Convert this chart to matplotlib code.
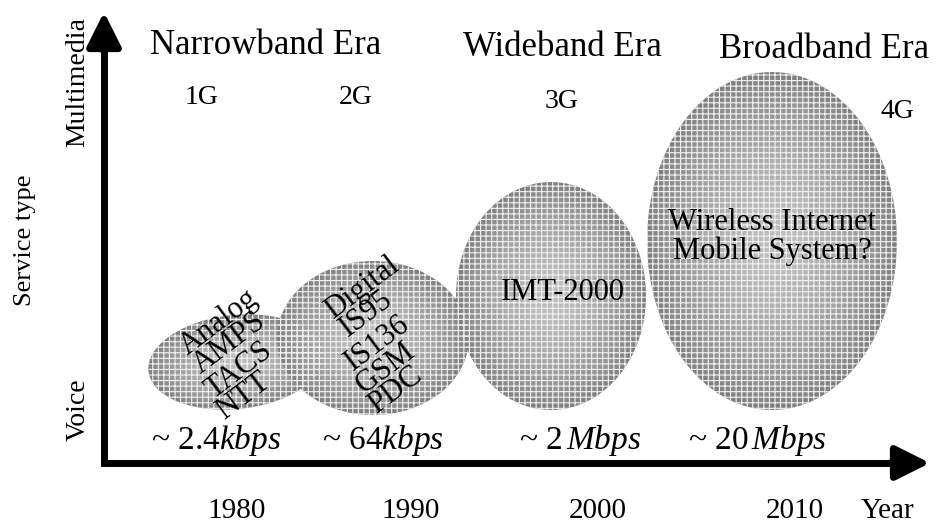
import matplotlib

matplotlib.use("Agg")
import matplotlib.pyplot as plt
from matplotlib.patches import Ellipse

plt.rcParams["font.family"] = ["Liberation Serif", "DejaVu Serif"]
plt.rcParams["mathtext.fontset"] = "custom"
plt.rcParams["mathtext.rm"] = "Liberation Serif"
plt.rcParams["mathtext.it"] = "Liberation Serif:italic"
plt.rcParams["hatch.linewidth"] = 0.8

# chart content
eras = ["Narrowband Era", "Wideband Era", "Broadband Era"]
generations = ["1G", "2G", "3G", "4G"]
years = ["1980", "1990", "2000", "2010"]
rate_values = ["2.4", "64", "2", "20"]
rate_units = ["kbps", "kbps", "Mbps", "Mbps"]
analog_systems = ["Analog", "AMPS", "TACS", "NTT"]
digital_systems = ["Digital", "IS95", "IS136", "GSM", "PDC"]
imt_label = "IMT-2000"
future_label = "Wireless Internet\nMobile System?"
service_levels = ["Voice", "Multimedia"]

# layout (canvas units = pixels of the 939x525 frame)
W, H = 939, 525
origin = (104, 463)
x_tip, y_tip = 930, 12
era_pos = [(266, 45), (562, 47), (824, 49)]
gen_pos = [(202, 98), (356, 98), (561, 102), (897, 112)]
year_x = [237, 411, 598, 795]
year_y = 511
rate_x = [216, 383, 580, 757]
rate_y = 441
analog_pos = [(219, 322), (229, 343), (239, 370), (243, 396)]
digital_pos = [(362, 288), (366, 314), (377, 343), (386, 368), (395, 390)]
# ellipses: (cx, cy, width, height, angle)
blobs = [
    (236, 362, 176, 94, 6),
    (373, 338, 192, 154, 0),
    (551, 296, 190, 228, 0),
    (772, 241, 250, 338, 0),
]

fig = plt.figure(figsize=(W / 100, H / 100), dpi=100)
ax = fig.add_axes([0, 0, 1, 1])
ax.set_xlim(0, W)
ax.set_ylim(H, 0)
ax.axis("off")

# shaded ellipses: darker rim, lighter centre, fine screen texture
steps = 24
for cx, cy, w, h, ang in blobs:
    for i in range(steps):
        t = i / (steps - 1)
        s = 1.0 - 0.8 * t
        g = 0.50 + 0.24 * t ** 0.7
        ax.add_patch(Ellipse((cx, cy), w * s, h * s, angle=-ang, facecolor=(g, g, g),
                             edgecolor="none", zorder=1))
for cx, cy, w, h, ang in blobs:
    ax.add_patch(Ellipse((cx, cy), w, h, angle=-ang, facecolor="none",
                         edgecolor="#f2f2f2", linewidth=0, hatch="+++", zorder=2))

# axes arrows
ax.plot([origin[0], origin[0], x_tip - 20], [y_tip + 20, origin[1], origin[1]],
        color="black", lw=5, solid_joinstyle="miter", solid_capstyle="butt", zorder=5)
arrow = dict(arrowstyle="-|>", color="black", lw=5, mutation_scale=52,
             shrinkA=0, shrinkB=0)
ax.annotate("", xy=(x_tip, origin[1]), xytext=(x_tip - 40, origin[1]), arrowprops=arrow, zorder=5)
ax.annotate("", xy=(origin[0], y_tip), xytext=(origin[0], y_tip + 40), arrowprops=arrow, zorder=5)

# axis titles
ax.text(25, 240, "Service type", rotation=90, ha="center", va="center", fontsize=19)
ax.text(78, 410, service_levels[0], rotation=90, ha="center", va="center", fontsize=20)
ax.text(78, 82, service_levels[1], rotation=90, ha="center", va="center", fontsize=20)
ax.text(888, year_y, "Year", ha="center", va="center", fontsize=21)

for name, (x, y) in zip(eras, era_pos):
    ax.text(x, y, name, ha="center", va="center", fontsize=25)
for g, (x, y) in zip(generations, gen_pos):
    ax.text(x, y, g, ha="center", va="center", fontsize=20)
for yr, x in zip(years, year_x):
    ax.text(x, year_y, yr, ha="center", va="center", fontsize=21)
for val, unit, x in zip(rate_values, rate_units, rate_x):
    sep = r"\," if unit == "Mbps" else ""
    ax.text(x, rate_y, "~ " + val + r"$" + sep + r"\mathit{" + unit + "}$",
            ha="center", va="center", fontsize=24, zorder=6)

for name, (x, y) in zip(analog_systems, analog_pos):
    ax.text(x, y, name, rotation=37, ha="center", va="center", fontsize=22, zorder=6)
for name, (x, y) in zip(digital_systems, digital_pos):
    ax.text(x, y, name, rotation=37, ha="center", va="center", fontsize=22, zorder=6)
ax.text(563, 292, imt_label, ha="center", va="center", fontsize=22, zorder=6)
ax.text(772, 237, future_label, ha="center", va="center", fontsize=22,
        linespacing=0.95, zorder=6)

fig.savefig("out.png", dpi=100)
